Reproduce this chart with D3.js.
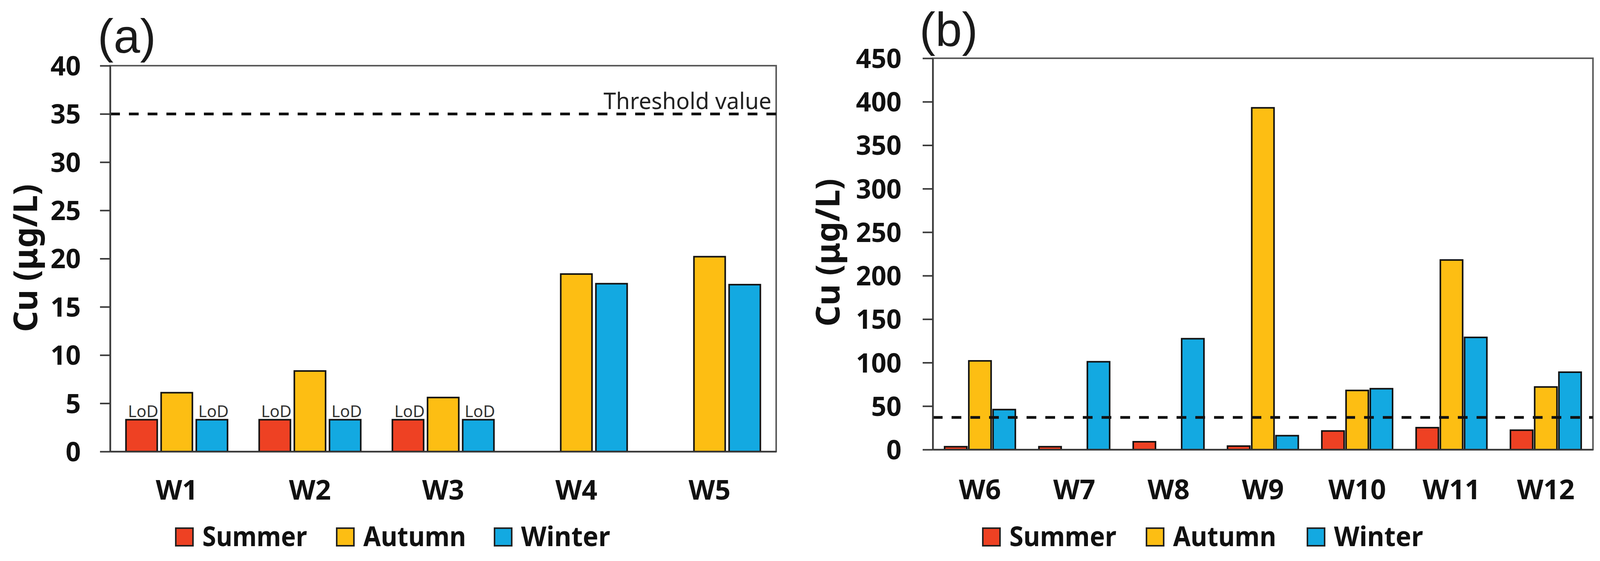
<!DOCTYPE html>
<html>
<head>
<meta charset="utf-8">
<script src="https://cdn.jsdelivr.net/npm/d3@7"></script>
<style>
  html, body { margin: 0; padding: 0; background: #ffffff; }
  svg { display: block; }
</style>
</head>
<body>
<svg id="chart" width="4106" height="1435"></svg>
<script>
// ---------------- DATA ----------------
const seasons = ["Summer", "Autumn", "Winter"];
const seasonColors = ["#EE4123", "#FDBE13", "#13A9E1"];

// Panel (a)
const categoriesA = ["W1", "W2", "W3", "W4", "W5"];
const summerA = [3.3, 3.3, 3.3, null, null];
const autumnA = [6.1, 8.35, 5.6, 18.4, 20.2];
const winterA = [3.3, 3.3, 3.3, 17.4, 17.3];
const lodSummerA = [true, true, true, false, false];
const lodWinterA = [true, true, true, false, false];
const ticksA = [0, 5, 10, 15, 20, 25, 30, 35, 40];
const thresholdA = 35;

// Panel (b)
const categoriesB = ["W6", "W7", "W8", "W9", "W10", "W11", "W12"];
const summerB = [3.3, 3.3, 9, 4, 21.4, 25.2, 22.3];
const autumnB = [102, null, null, 393, 68, 218, 72];
const winterB = [46, 101, 127.5, 16, 70, 129, 89];
const ticksB = [0, 50, 100, 150, 200, 250, 300, 350, 400, 450];
const thresholdB = 37;

const yTitle = "Cu (μg/L)";
const thresholdLabel = "Threshold value";
const lodLabel = "LoD";

// ---------------- DRAW ----------------
const svg = d3.select("#chart");
svg.append("rect").attr("width", 4106).attr("height", 1435).attr("fill", "#ffffff");

const FONT = "'Noto Sans', 'Open Sans', 'DejaVu Sans', sans-serif";

function panel(cfg) {
  const g = svg.append("g");
  const x0 = d3.scaleBand().domain(cfg.categories).range([cfg.left, cfg.right]).padding(0);
  const x1 = d3.scaleBand().domain(seasons).range([0, x0.bandwidth()])
    .paddingInner(cfg.pi).paddingOuter(cfg.po);
  const y = d3.scaleLinear().domain([0, cfg.ticks[cfg.ticks.length - 1]]).range([cfg.bottom, cfg.top]);

  // frame (top & right)
  g.append("rect")
    .attr("x", cfg.left).attr("y", cfg.top)
    .attr("width", cfg.right - cfg.left).attr("height", cfg.bottom - cfg.top)
    .attr("fill", "#ffffff").attr("stroke", "#5a5a5a").attr("stroke-width", 4);

  // bars
  const series = [cfg.summer, cfg.autumn, cfg.winter];
  const rows = [];
  cfg.categories.forEach((c, i) => {
    seasons.forEach((s, j) => {
      const v = series[j][i];
      if (v !== null && v !== undefined) rows.push({ c, s, j, v, i });
    });
  });
  g.selectAll("rect.bar").data(rows).join("rect")
    .attr("class", "bar")
    .attr("x", d => x0(d.c) + x1(d.s))
    .attr("width", x1.bandwidth())
    .attr("y", d => y(d.v))
    .attr("height", d => y(0) - y(d.v))
    .attr("fill", d => seasonColors[d.j])
    .attr("stroke", "#111111")
    .attr("stroke-width", 4);

  // LoD labels
  if (cfg.lodSummer) {
    const lodRows = rows.filter(d => (d.j === 0 && cfg.lodSummer[d.i]) || (d.j === 2 && cfg.lodWinter[d.i]));
    g.selectAll("text.lod").data(lodRows).join("text")
      .attr("class", "lod")
      .attr("x", d => x0(d.c) + x1(d.s) + x1.bandwidth() / 2 + 4)
      .attr("y", d => y(d.v) - 7)
      .attr("text-anchor", "middle")
      .attr("font-family", FONT)
      .attr("font-size", 42)
      .attr("fill", "#333333")
      .text(lodLabel);
  }

  // threshold
  g.append("line")
    .attr("x1", cfg.left).attr("x2", cfg.right)
    .attr("y1", y(cfg.threshold)).attr("y2", y(cfg.threshold))
    .attr("stroke", "#111111").attr("stroke-width", 7)
    .attr("stroke-dasharray", "25,23");

  if (cfg.showThresholdLabel) {
    g.append("text")
      .attr("x", cfg.right - 12).attr("y", y(cfg.threshold) - 12)
      .attr("text-anchor", "end")
      .attr("font-family", FONT)
      .attr("font-size", 58)
      .attr("fill", "#222222")
      .attr("textLength", 430).attr("lengthAdjust", "spacingAndGlyphs")
      .text(thresholdLabel);
  }

  // y axis
  const ya = g.append("g").attr("transform", `translate(${cfg.left},0)`)
    .call(d3.axisLeft(y).tickValues(cfg.ticks).tickSize(26).tickPadding(cfg.yPad).tickSizeOuter(0));
  ya.select(".domain").attr("stroke", "#3a3a3a").attr("stroke-width", 4);
  ya.selectAll(".tick line").attr("stroke", "#3a3a3a").attr("stroke-width", 4);
  ya.selectAll(".tick text")
    .attr("font-family", FONT).attr("font-weight", "bold").attr("font-size", 68)
    .attr("fill", "#111111").attr("dy", "0.36em");

  // x axis
  const xa = g.append("g").attr("transform", `translate(0,${cfg.bottom})`)
    .call(d3.axisBottom(x0).tickSize(0).tickPadding(cfg.xPad).tickSizeOuter(0));
  xa.select(".domain").attr("stroke", "#3a3a3a").attr("stroke-width", 4);
  xa.selectAll(".tick text")
    .attr("font-family", FONT).attr("font-weight", "bold").attr("font-size", 70)
    .attr("fill", "#111111");

  // y title
  g.append("text")
    .attr("transform", `translate(${cfg.titleX},${cfg.titleY}) rotate(-90)`)
    .attr("text-anchor", "middle")
    .attr("font-family", FONT).attr("font-weight", "bold").attr("font-size", 84)
    .attr("fill", "#111111")
    .text(yTitle);

  // panel letter
  g.append("text")
    .attr("x", cfg.letterX).attr("y", cfg.letterY)
    .attr("font-family", "'Liberation Sans', Arial, sans-serif")
    .attr("font-size", 122)
    .attr("fill", "#1a1a1a")
    .text(cfg.letter);

  // legend
  const lg = g.append("g");
  seasons.forEach((s, j) => {
    lg.append("rect")
      .attr("x", cfg.legendX[j]).attr("y", 1351)
      .attr("width", 44).attr("height", 45)
      .attr("fill", seasonColors[j]).attr("stroke", "#222222").attr("stroke-width", 4);
    lg.append("text")
      .attr("x", cfg.legendX[j] + 68).attr("y", 1397)
      .attr("font-family", FONT).attr("font-weight", "bold").attr("font-size", 70)
      .attr("fill", "#111111")
      .attr("textLength", cfg.legendW[j]).attr("lengthAdjust", "spacingAndGlyphs")
      .text(s);
  });
}

panel({
  categories: categoriesA, summer: summerA, autumn: autumnA, winter: winterA,
  lodSummer: lodSummerA, lodWinter: lodWinterA,
  ticks: ticksA, threshold: thresholdA, showThresholdLabel: true,
  left: 282, right: 1987, top: 168, bottom: 1155,
  pi: 0.111, po: 0.45, yPad: 49, xPad: 73,
  titleX: 95, titleY: 660,
  letter: "(a)", letterX: 250, letterY: 135,
  legendX: [450, 862, 1266], legendW: [268, 263, 228]
});

panel({
  categories: categoriesB, summer: summerB, autumn: autumnB, winter: winterB,
  lodSummer: null, lodWinter: null,
  ticks: ticksB, threshold: thresholdB, showThresholdLabel: false,
  left: 2388, right: 4078, top: 149, bottom: 1150,
  pi: 0.08, po: 0.486, yPad: 54, xPad: 77,
  titleX: 2149, titleY: 646,
  letter: "(b)", letterX: 2354, letterY: 118,
  legendX: [2516, 2935, 3347], legendW: [274, 264, 228]
});
</script>
</body>
</html>
